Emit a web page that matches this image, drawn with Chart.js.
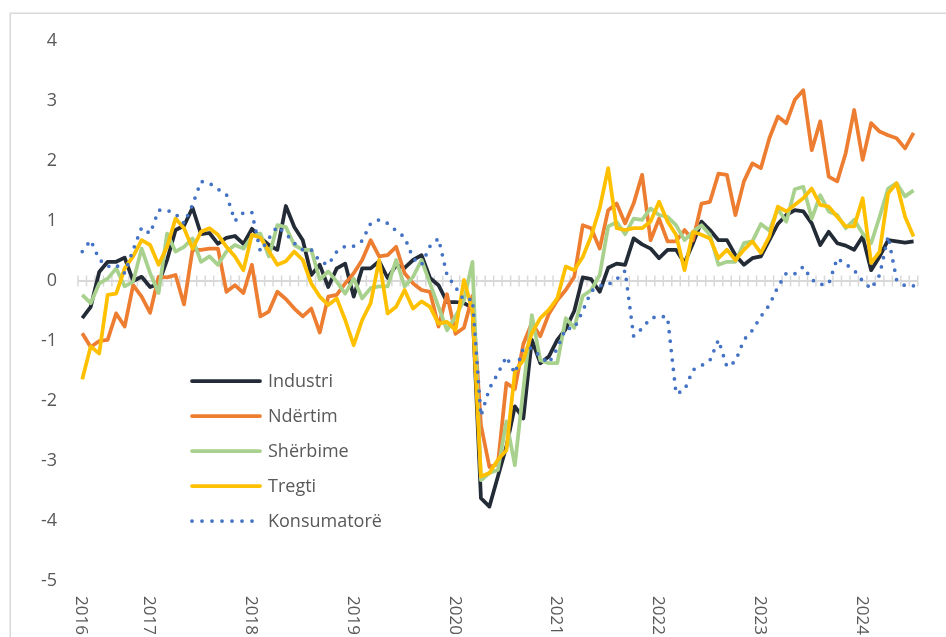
<!DOCTYPE html>
<html><head><meta charset="utf-8">
<script src="https://cdn.jsdelivr.net/npm/chart.js@4.4.1/dist/chart.umd.min.js"></script>
<style>html,body{margin:0;padding:0;background:#fff;}canvas{display:block;}</style>
</head><body>
<canvas id="c" width="946" height="637"></canvas>
<script>
const months = [
'2016-05','2016-06','2016-07','2016-08','2016-09','2016-10','2016-11','2016-12',
'2017-01','2017-02','2017-03','2017-04','2017-05','2017-06','2017-07','2017-08','2017-09','2017-10','2017-11','2017-12',
'2018-01','2018-02','2018-03','2018-04','2018-05','2018-06','2018-07','2018-08','2018-09','2018-10','2018-11','2018-12',
'2019-01','2019-02','2019-03','2019-04','2019-05','2019-06','2019-07','2019-08','2019-09','2019-10','2019-11','2019-12',
'2020-01','2020-02','2020-03','2020-04','2020-05','2020-06','2020-07','2020-08','2020-09','2020-10','2020-11','2020-12',
'2021-01','2021-02','2021-03','2021-04','2021-05','2021-06','2021-07','2021-08','2021-09','2021-10','2021-11','2021-12',
'2022-01','2022-02','2022-03','2022-04','2022-05','2022-06','2022-07','2022-08','2022-09','2022-10','2022-11','2022-12',
'2023-01','2023-02','2023-03','2023-04','2023-05','2023-06','2023-07','2023-08','2023-09','2023-10','2023-11','2023-12',
'2024-01','2024-02','2024-03','2024-04','2024-05','2024-06','2024-07'];

const yearLabels = ['2016','2017','2018','2019','2020','2021','2022','2023','2024'];
const yTicks = [4,3,2,1,0,-1,-2,-3,-4,-5];
const seriesNames = ['Industri','Ndërtim','Shërbime','Tregti','Konsumatorë'];

const industri = [
-0.62,-0.43,0.15,0.32,0.32,0.39,0.0,0.07,
-0.1,-0.05,0.35,0.85,0.92,1.22,0.78,0.8,0.62,0.72,0.75,0.62,
0.87,0.72,0.6,0.52,1.25,0.9,0.68,0.1,0.27,-0.1,0.21,0.29,
-0.26,0.21,0.21,0.33,0.05,0.26,0.22,0.35,0.43,0.05,-0.07,-0.35,
-0.35,-0.37,-0.45,-3.62,-3.76,-3.26,-2.76,-2.09,-2.29,-0.98,-1.37,-1.26,
-0.98,-0.8,-0.5,0.06,0.03,-0.18,0.22,0.29,0.27,0.71,0.61,0.54,
0.38,0.52,0.52,0.3,0.63,0.99,0.85,0.68,0.68,0.43,0.27,0.38,
0.41,0.68,0.95,1.1,1.18,1.16,0.96,0.6,0.82,0.63,0.59,0.52,
0.74,0.18,0.41,0.68,0.66,0.64,0.66];

const ndertim = [
-0.87,-1.1,-1.0,-0.98,-0.54,-0.76,-0.07,-0.26,
-0.53,0.07,0.06,0.1,-0.39,0.52,0.52,0.54,0.54,-0.18,-0.07,-0.2,
0.27,-0.59,-0.51,-0.18,-0.3,-0.46,-0.59,-0.46,-0.86,-0.26,-0.23,-0.04,
0.13,0.35,0.68,0.41,0.43,0.57,0.13,-0.04,-0.15,-0.18,-0.76,-0.22,
-0.88,-0.78,-0.25,-2.4,-3.1,-3.05,-1.7,-1.8,-1.05,-0.7,-0.92,-0.55,
-0.32,-0.15,0.07,0.93,0.88,0.54,1.18,1.29,0.96,1.29,1.77,0.68,
1.04,0.66,0.66,0.85,0.68,1.29,1.32,1.79,1.77,1.1,1.66,1.96,
1.88,2.38,2.74,2.63,3.02,3.18,2.18,2.66,1.74,1.66,2.13,2.85,
2.02,2.63,2.49,2.43,2.38,2.21,2.47];

const sherbime = [
-0.23,-0.37,-0.04,0.04,0.21,-0.09,-0.01,0.54,
0.13,-0.2,0.79,0.49,0.57,0.71,0.32,0.41,0.27,0.49,0.6,0.54,
0.74,0.79,0.41,0.93,0.9,0.6,0.52,0.52,0.02,0.16,-0.01,-0.21,
0.04,-0.29,-0.12,-0.09,-0.09,0.35,-0.09,0.07,0.35,-0.04,-0.43,-0.82,
-0.59,-0.32,0.32,-3.32,-3.2,-3.15,-2.34,-3.07,-1.8,-0.57,-1.32,-1.37,
-1.37,-0.62,-0.78,-0.25,-0.15,0.1,0.91,0.98,0.78,1.04,1.02,1.21,
1.1,1.07,0.93,0.68,0.82,0.93,0.77,0.27,0.32,0.32,0.63,0.66,
0.95,0.84,1.2,0.99,1.53,1.57,1.04,1.43,1.16,1.1,0.88,1.02,
0.79,0.63,1.07,1.54,1.63,1.41,1.51];

const tregti = [
-1.64,-1.09,-1.21,-0.23,-0.21,0.21,0.41,0.68,
0.6,0.27,0.57,1.04,0.88,0.54,0.82,0.88,0.77,0.57,0.41,0.18,
0.77,0.72,0.5,0.27,0.33,0.49,0.35,-0.04,-0.26,-0.4,-0.29,-0.65,
-1.07,-0.65,-0.37,0.35,-0.54,-0.43,-0.15,-0.46,-0.34,-0.43,-0.71,-0.68,
-0.82,0.02,-0.5,-3.26,-3.2,-2.98,-2.82,-1.51,-1.32,-0.87,-0.62,-0.48,
-0.29,0.24,0.18,0.4,0.75,1.21,1.88,0.88,0.85,0.88,0.88,0.99,
1.32,0.99,0.77,0.18,0.82,0.77,0.71,0.38,0.52,0.35,0.52,0.66,
0.47,0.74,1.24,1.16,1.27,1.38,1.54,1.27,1.24,1.07,0.91,0.91,
1.38,0.3,0.49,1.46,1.63,1.07,0.74];

const konsumatore = [
0.49,0.68,0.36,0.24,0.27,0.13,0.52,0.89,
0.79,1.18,1.18,1.12,0.96,1.27,1.66,1.63,1.53,1.44,1.0,1.14,
1.14,0.49,0.71,0.91,0.79,0.63,0.52,0.52,0.33,0.27,0.49,0.58,
0.58,0.67,0.96,1.02,0.96,0.84,0.73,0.38,0.27,0.58,0.71,0.1,
-0.1,-0.32,-0.3,-2.25,-1.79,-1.54,-1.26,-1.54,-1.12,-1.12,-1.26,-1.37,
-1.12,-0.79,-0.79,-0.5,-0.17,-0.08,-0.06,0.03,0.17,-0.92,-0.79,-0.62,
-0.59,-0.6,-1.88,-1.82,-1.48,-1.41,-1.32,-0.98,-1.43,-1.34,-0.98,-0.82,
-0.59,-0.4,-0.1,0.13,0.12,0.24,0.02,-0.06,-0.05,0.38,0.28,0.18,
0.0,-0.13,0.1,0.75,0.02,-0.08,-0.08];

const TEXT = '#595959';
const FONT = '"Open Sans", "Noto Sans", sans-serif';

function ds(label, data, color, order, dotted){
  const d = {label, data, borderColor: color, backgroundColor: color, borderWidth: 3.75,
    pointRadius: 0, pointHoverRadius: 0, tension: 0, fill: false, order,
    borderJoinStyle: 'round', borderCapStyle: dotted ? 'round' : 'butt'};
  if (dotted) d.borderDash = [0, 9.5];
  return d;
}

const decor = {
  id: 'decor',
  beforeDraw(chart){
    const ctx = chart.ctx;
    ctx.save();
    ctx.fillStyle = '#fff'; ctx.fillRect(0,0,chart.width,chart.height);
    ctx.strokeStyle = '#d9d9d9'; ctx.lineWidth = 1.5;
    ctx.beginPath(); ctx.moveTo(10.25, chart.height + 5); ctx.lineTo(10.25, 13.25); ctx.lineTo(chart.width + 5, 13.25); ctx.stroke();
    ctx.restore();
  },
  beforeDatasetsDraw(chart){
    const ctx = chart.ctx, xs = chart.scales.x, ys = chart.scales.y, ca = chart.chartArea;
    const y0 = ys.getPixelForValue(0);
    ctx.save();
    ctx.strokeStyle = '#d9d9d9';
    ctx.lineWidth = 2;
    ctx.beginPath(); ctx.moveTo(ca.left, y0); ctx.lineTo(ca.right, y0); ctx.stroke();
    ctx.lineWidth = 1.5;
    ctx.beginPath();
    const n = months.length;
    for (let i = 0; i <= n; i++){
      let px;
      if (i === 0) px = ca.left;
      else if (i === n) px = ca.right;
      else px = (xs.getPixelForValue(i-1) + xs.getPixelForValue(i)) / 2;
      ctx.moveTo(px, y0 - 5.5); ctx.lineTo(px, y0 + 5.5);
    }
    ctx.stroke();
    ctx.restore();
  },
  afterDraw(chart){
    const ctx = chart.ctx, xs = chart.scales.x;
    ctx.save();
    // rotated year labels
    ctx.fillStyle = TEXT;
    ctx.font = '17px ' + FONT;
    ctx.textAlign = 'left'; ctx.textBaseline = 'middle';
    yearLabels.forEach(yr => {
      const idx = months.findIndex(m => m.startsWith(yr));
      const px = xs.getPixelForValue(idx) - 1;
      ctx.save(); ctx.translate(px, 596); ctx.rotate(Math.PI/2);
      ctx.fillText(yr, 0, 0); ctx.restore();
    });
    // legend
    ctx.font = '18px ' + FONT;
    chart.data.datasets.forEach((d, k) => {
      const ly = 381 + 35*k;
      ctx.save();
      ctx.strokeStyle = d.borderColor; ctx.lineWidth = d.borderWidth;
      ctx.lineCap = d.borderDash ? 'round' : 'round';
      if (d.borderDash) ctx.setLineDash([0, 10]);
      ctx.beginPath(); ctx.moveTo(192, ly); ctx.lineTo(d.borderDash ? 254 : 260, ly); ctx.stroke();
      ctx.restore();
      ctx.fillStyle = TEXT;
      ctx.textAlign = 'left'; ctx.textBaseline = 'middle';
      ctx.fillText(d.label, 268, ly + 1);
    });
    ctx.restore();
  }
};

new Chart(document.getElementById('c'), {
  type: 'line',
  data: {
    labels: months,
    datasets: [
      ds(seriesNames[0], industri, '#222B36', 5, false),
      ds(seriesNames[1], ndertim, '#ED7D31', 4, false),
      ds(seriesNames[2], sherbime, '#A9D18E', 3, false),
      ds(seriesNames[3], tregti, '#FFC000', 2, false),
      ds(seriesNames[4], konsumatore, '#4472C4', 1, true)
    ]
  },
  options: {
    responsive: false, animation: false, devicePixelRatio: 1,
    layout: { padding: { left: 10, right: 28.2, top: 41, bottom: 56 } },
    plugins: { legend: { display: false }, tooltip: { enabled: false }, title: { display: false } },
    scales: {
      x: { type: 'category', offset: true, display: false },
      y: {
        min: -5, max: 4,
        afterBuildTicks(scale){ scale.ticks = yTicks.map(v => ({value: v})); },
        afterFit(scale){ scale.width = 68; },
        grid: { display: false, drawTicks: false },
        border: { display: false },
        ticks: { color: TEXT, font: { family: FONT, size: 18 }, padding: 21 }
      }
    }
  },
  plugins: [decor]
});
</script>
</body></html>
